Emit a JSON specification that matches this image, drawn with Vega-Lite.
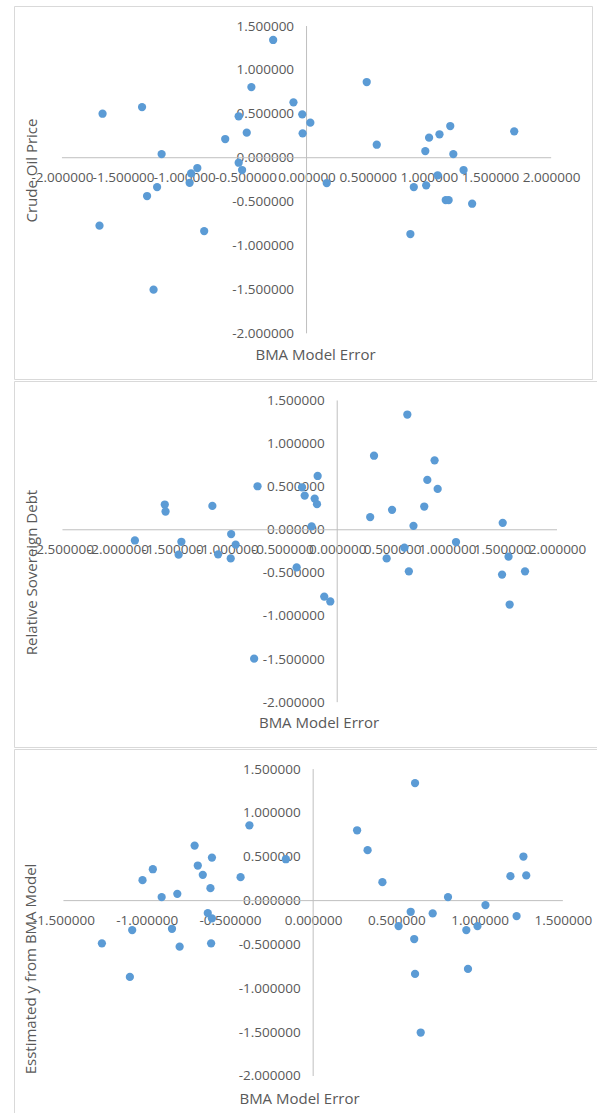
{
  "$schema": "https://vega.github.io/schema/vega-lite/v6.json",
  "padding": {"left": 13, "top": 5, "right": 0, "bottom": 0},
  "background": "white",
  "spacing": 0,
  "config": {
    "view": {"stroke": "#D9D9D9", "strokeWidth": 1},
    "concat": {"spacing": 0},
    "axis": {
      "domain": false, "ticks": false, "tickSize": 0, "grid": false,
      "labelFont": "Open Sans", "labelFontSize": 13.5, "labelColor": "#595959",
      "titleFont": "Open Sans", "titleFontSize": 15, "titleColor": "#595959", "titleFontWeight": "normal",
      "labelOverlap": false, "labelFlush": false, "labelBound": false,
      "labelExpr": "replace(format(datum.value, '.6f'), '\u2212', '-')"
    },
    "axisX": {"labelPadding": 19.5, "labelBaseline": "middle", "titleAlign": "center", "titleBaseline": "middle", "titleAnchor": null},
    "axisY": {"labelPadding": 13, "titleAlign": "center", "titleBaseline": "middle", "titleAngle": -90, "titleAnchor": null}
  },
  "datasets": {
    "axes1": [{"x": -2, "x2": 2, "y": 0, "y2": 0}, {"x": 0, "x2": 0, "y": -2, "y2": 1.5}],
    "axes2": [{"x": -2.5, "x2": 2, "y": 0, "y2": 0}, {"x": 0, "x2": 0, "y": -2, "y2": 1.5}],
    "axes3": [{"x": -1.5, "x2": 1.5, "y": 0, "y2": 0}, {"x": 0, "x2": 0, "y": -2, "y2": 1.5}],
    "p1": [
      {"x": -0.273, "y": 1.341}, {"x": 0.492, "y": 0.862}, {"x": -0.451, "y": 0.805}, {"x": -0.107, "y": 0.631},
      {"x": -1.668, "y": 0.501}, {"x": -1.345, "y": 0.577}, {"x": -0.555, "y": 0.472}, {"x": -0.035, "y": 0.494},
      {"x": 0.031, "y": 0.399}, {"x": -0.489, "y": 0.285}, {"x": -0.032, "y": 0.278}, {"x": -0.665, "y": 0.213},
      {"x": 0.574, "y": 0.148}, {"x": 1.698, "y": 0.301}, {"x": 1.175, "y": 0.361}, {"x": 1.087, "y": 0.267},
      {"x": 1.002, "y": 0.228}, {"x": 0.971, "y": 0.076}, {"x": 1.2, "y": 0.042}, {"x": -1.185, "y": 0.042},
      {"x": -0.555, "y": -0.057}, {"x": -0.527, "y": -0.14}, {"x": -0.893, "y": -0.117}, {"x": -0.944, "y": -0.178},
      {"x": -0.956, "y": -0.285}, {"x": 0.165, "y": -0.288}, {"x": 1.284, "y": -0.14}, {"x": 1.072, "y": -0.2},
      {"x": -1.222, "y": -0.334}, {"x": 0.877, "y": -0.334}, {"x": 0.978, "y": -0.314}, {"x": -1.304, "y": -0.436},
      {"x": 1.138, "y": -0.482}, {"x": 1.162, "y": -0.482}, {"x": 1.354, "y": -0.524}, {"x": -1.693, "y": -0.774},
      {"x": -0.837, "y": -0.835}, {"x": 0.849, "y": -0.869}, {"x": -1.251, "y": -1.503}
    ],
    "p2": [
      {"x": 0.638, "y": 1.337}, {"x": 0.335, "y": 0.859}, {"x": 0.886, "y": 0.806}, {"x": -0.178, "y": 0.624},
      {"x": 0.82, "y": 0.578}, {"x": -0.725, "y": 0.505}, {"x": -0.32, "y": 0.493}, {"x": 0.914, "y": 0.474},
      {"x": -0.296, "y": 0.397}, {"x": -0.205, "y": 0.362}, {"x": -0.184, "y": 0.297}, {"x": -1.569, "y": 0.293},
      {"x": -1.136, "y": 0.277}, {"x": 0.792, "y": 0.27}, {"x": -1.562, "y": 0.212}, {"x": 0.499, "y": 0.231},
      {"x": 0.3, "y": 0.147}, {"x": 1.506, "y": 0.081}, {"x": -0.233, "y": 0.039}, {"x": 0.694, "y": 0.046},
      {"x": -0.965, "y": -0.05}, {"x": -1.841, "y": -0.124}, {"x": -1.418, "y": -0.139}, {"x": -0.924, "y": -0.173},
      {"x": 1.081, "y": -0.142}, {"x": 0.611, "y": -0.208}, {"x": -1.443, "y": -0.289}, {"x": -1.084, "y": -0.285},
      {"x": -0.969, "y": -0.332}, {"x": 0.45, "y": -0.332}, {"x": 1.559, "y": -0.312}, {"x": -0.369, "y": -0.436},
      {"x": 0.652, "y": -0.482}, {"x": 1.5, "y": -0.52}, {"x": 1.709, "y": -0.482}, {"x": -0.118, "y": -0.775},
      {"x": -0.063, "y": -0.832}, {"x": 1.569, "y": -0.867}, {"x": -0.756, "y": -1.495}
    ],
    "p3": [
      {"x": 0.612, "y": 1.34}, {"x": -0.383, "y": 0.859}, {"x": 0.264, "y": 0.802}, {"x": 0.327, "y": 0.575},
      {"x": -0.712, "y": 0.628}, {"x": -0.608, "y": 0.491}, {"x": -0.164, "y": 0.472}, {"x": 1.263, "y": 0.503},
      {"x": -0.963, "y": 0.358}, {"x": -0.693, "y": 0.4}, {"x": -0.663, "y": 0.294}, {"x": -1.025, "y": 0.233},
      {"x": -0.436, "y": 0.267}, {"x": 0.416, "y": 0.21}, {"x": 1.185, "y": 0.279}, {"x": 1.28, "y": 0.287},
      {"x": -0.617, "y": 0.142}, {"x": -0.91, "y": 0.04}, {"x": -0.816, "y": 0.077}, {"x": 0.81, "y": 0.04},
      {"x": -0.633, "y": -0.142}, {"x": 0.586, "y": -0.127}, {"x": 0.718, "y": -0.146}, {"x": 1.035, "y": -0.051},
      {"x": 1.222, "y": -0.176}, {"x": -0.608, "y": -0.203}, {"x": 0.513, "y": -0.29}, {"x": -0.848, "y": -0.321},
      {"x": -1.087, "y": -0.336}, {"x": 0.92, "y": -0.336}, {"x": 0.987, "y": -0.29}, {"x": 0.607, "y": -0.438},
      {"x": -1.269, "y": -0.487}, {"x": -0.613, "y": -0.487}, {"x": -0.802, "y": -0.525}, {"x": -1.101, "y": -0.87},
      {"x": 0.612, "y": -0.836}, {"x": 0.93, "y": -0.779}, {"x": 0.646, "y": -1.504}
    ]
  },
  "vconcat": [
    {
      "width": 578, "height": 373,
      "encoding": {
        "x": {"field": "x", "type": "quantitative", "scale": {"domain": [-2.392, 2.334], "nice": false, "zero": false},
              "axis": {"values": [-2, -1.5, -1, -0.5, 0, 0.5, 1, 1.5, 2], "offset": -221.3, "title": "BMA Model Error", "titleX": 301, "titleY": 197}},
        "y": {"field": "y", "type": "quantitative", "scale": {"domain": [-2.52, 1.728], "nice": false, "zero": false},
              "axis": {"values": [-2, -1.5, -1, -0.5, 0, 0.5, 1, 1.5], "offset": -292.6, "title": "Crude Oil Price", "titleX": -275, "titleY": 164}}
      },
      "layer": [
        {"data": {"name": "axes1"}, "mark": {"type": "rule", "color": "#BFBFBF", "strokeWidth": 1},
         "encoding": {"x2": {"field": "x2"}, "y2": {"field": "y2"}}},
        {"data": {"name": "p1"}, "mark": {"type": "point", "filled": true, "shape": "circle", "size": 68, "color": "#5B9BD5", "opacity": 1}}
      ]
    },
    {
      "width": 584, "height": 366,
      "encoding": {
        "x": {"field": "x", "type": "quantitative", "scale": {"domain": [-2.941, 2.373], "nice": false, "zero": false},
              "axis": {"values": [-2.5, -2, -1.5, -1, -0.5, 0, 0.5, 1, 1.5, 2], "offset": -217.2, "title": "BMA Model Error", "titleX": 304.5, "titleY": 193}},
        "y": {"field": "y", "type": "quantitative", "scale": {"domain": [-2.52, 1.726], "nice": false, "zero": false},
              "axis": {"values": [-2, -1.5, -1, -0.5, 0, 0.5, 1, 1.5], "offset": -323.2, "title": "Relative Sovereign Debt", "titleX": -305.5, "titleY": 191}}
      },
      "layer": [
        {"data": {"name": "axes2"}, "mark": {"type": "rule", "color": "#BFBFBF", "strokeWidth": 1},
         "encoding": {"x2": {"field": "x2"}, "y2": {"field": "y2"}}},
        {"data": {"name": "p2"}, "mark": {"type": "point", "filled": true, "shape": "circle", "size": 68, "color": "#5B9BD5", "opacity": 1}}
      ]
    },
    {
      "width": 584, "height": 369,
      "encoding": {
        "x": {"field": "x", "type": "quantitative", "scale": {"domain": [-1.797, 1.711], "nice": false, "zero": false},
              "axis": {"values": [-1.5, -1, -0.5, 0, 0.5, 1, 1.5], "offset": -217.4, "title": "BMA Model Error", "titleX": 285, "titleY": 197.4}},
        "y": {"field": "y", "type": "quantitative", "scale": {"domain": [-2.479, 1.729], "nice": false, "zero": false},
              "axis": {"values": [-2, -1.5, -1, -0.5, 0, 0.5, 1, 1.5], "offset": -299.2, "title": "Esstimated y from BMA Model", "titleX": -282.3, "titleY": 219.5}}
      },
      "layer": [
        {"data": {"name": "axes3"}, "mark": {"type": "rule", "color": "#BFBFBF", "strokeWidth": 1},
         "encoding": {"x2": {"field": "x2"}, "y2": {"field": "y2"}}},
        {"data": {"name": "p3"}, "mark": {"type": "point", "filled": true, "shape": "circle", "size": 68, "color": "#5B9BD5", "opacity": 1}}
      ]
    }
  ]
}
